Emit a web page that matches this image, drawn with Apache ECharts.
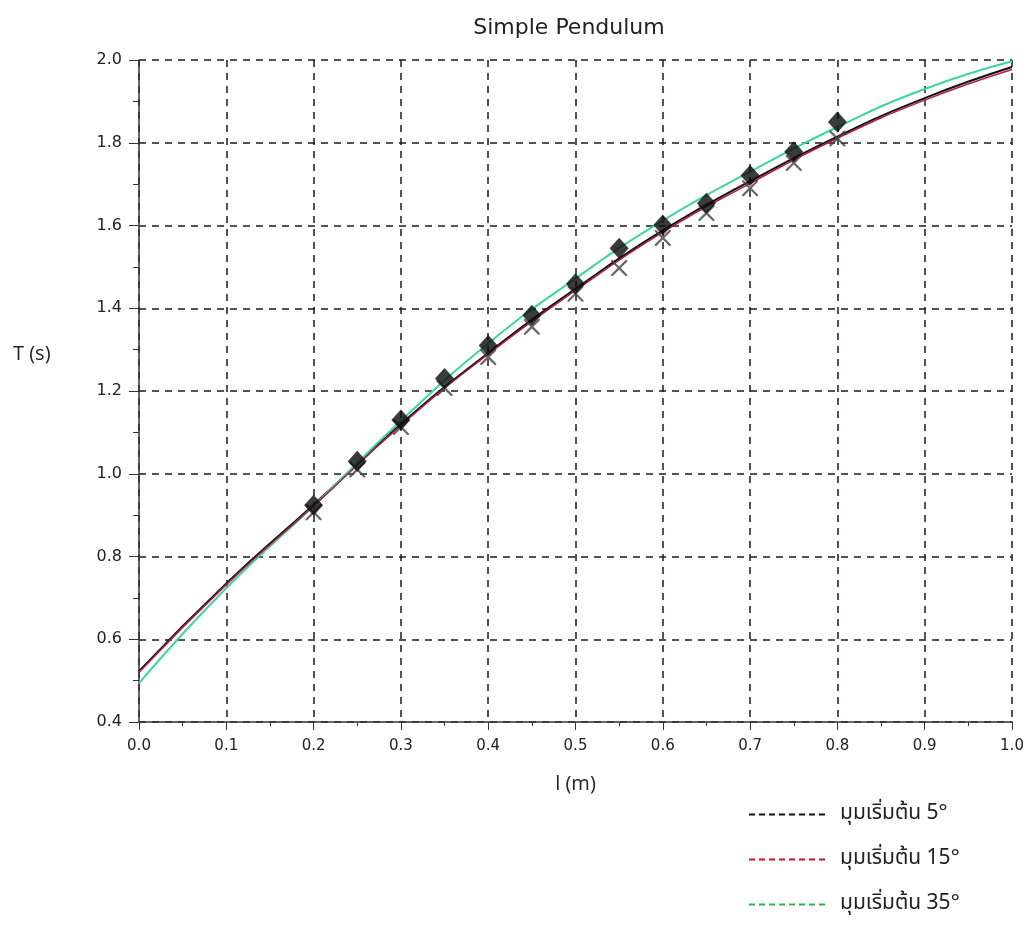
<!DOCTYPE html>
<html>
<head>
<meta charset="utf-8">
<script src="https://cdn.jsdelivr.net/npm/echarts@6/dist/echarts.min.js"></script>
<style>
  html, body { margin: 0; padding: 0; background: #fff; }
  #pendulum { width: 1027px; height: 937px; }
</style>
</head>
<body>
<div id="pendulum"></div>
<script>
// lengths l (m) for the fitted curves
var lengths = [0, 0.1, 0.2, 0.3, 0.4, 0.5, 0.6, 0.7, 0.8, 0.9, 1.0];
var period5 = [0.523, 0.735, 0.925, 1.120, 1.292, 1.447, 1.588, 1.707, 1.815, 1.908, 1.983];
var period15 = [0.520, 0.732, 0.922, 1.117, 1.289, 1.443, 1.584, 1.702, 1.811, 1.903, 1.977];
var period35 = [0.494, 0.724, 0.922, 1.128, 1.315, 1.472, 1.612, 1.730, 1.838, 1.930, 1.997];

// measured points
var measuredL = [0.2, 0.25, 0.3, 0.35, 0.4, 0.45, 0.5, 0.55, 0.6, 0.65, 0.7, 0.75, 0.8];
var diamondT = [0.924, 1.030, 1.130, 1.230, 1.310, 1.383, 1.459, 1.545, 1.601, 1.654, 1.721, 1.778, 1.850];
var crossT = [0.907, 1.010, 1.113, 1.207, 1.282, 1.355, 1.435, 1.497, 1.570, 1.630, 1.690, 1.751, 1.810];

var legendNames = ['มุมเริ่มต้น 5°', 'มุมเริ่มต้น 15°', 'มุมเริ่มต้น 35°'];
var legendColors = ['#111111', '#d0102a', '#2bb84c'];

function pairs(xs, ys) {
    return xs.map(function (x, i) { return [x, ys[i]]; });
}

var myChart = echarts.init(document.getElementById('pendulum'));
var gridDash = { color: '#1a1a2a', width: 1.5, type: [7, 6] };

var option = {
    animation: false,
    backgroundColor: '#ffffff',
    title: {
        text: 'Simple Pendulum',
        left: 564,
        top: 12,
        textAlign: 'center',
        textStyle: { fontFamily: 'DejaVu Sans', fontSize: 22, fontWeight: 'normal', color: '#222' }
    },
    graphic: [{
        type: 'text',
        left: 13,
        top: 344,
        style: { text: 'T (s)', font: '20px "Open Sans"', fill: '#222' }
    }],
    grid: { left: 139, right: 15, top: 60, bottom: 215 },
    legend: {
        orient: 'vertical',
        left: 743,
        top: 799,
        itemGap: 24,
        itemWidth: 80,
        itemHeight: 14,
        itemStyle: { color: 'transparent', borderColor: 'transparent', borderWidth: 0 },
        lineStyle: { type: [6, 4], width: 2 },
        textStyle: { fontFamily: 'Noto Sans Thai, Tahoma, Noto Sans, sans-serif', fontSize: 21, color: '#222', padding: [0, 0, 0, 6] },
        data: legendNames.map(function (n, i) {
            return { name: n, lineStyle: { color: legendColors[i], type: [6, 4], width: 2 } };
        })
    },
    xAxis: {
        type: 'value',
        min: 0,
        max: 1,
        interval: 0.1,
        name: 'l (m)',
        nameLocation: 'middle',
        nameGap: 52,
        nameTextStyle: { fontFamily: 'Open Sans', fontSize: 20, color: '#222' },
        axisLine: { lineStyle: { color: '#333344', width: 1.5 } },
        axisTick: { length: 8, lineStyle: { color: '#333' } },
        minorTick: { show: true, splitNumber: 2, length: 4, lineStyle: { color: '#333' } },
        axisLabel: {
            fontFamily: 'DejaVu Sans', fontSize: 15, color: '#222', margin: 17,
            formatter: function (v) { return v.toFixed(1); }
        },
        splitLine: { show: true, lineStyle: gridDash }
    },
    yAxis: {
        type: 'value',
        min: 0.4,
        max: 2.0,
        interval: 0.2,
        axisLine: { show: true, lineStyle: { color: '#333344', width: 1.5 } },
        axisTick: { show: true, length: 10, lineStyle: { color: '#333' } },
        minorTick: { show: true, splitNumber: 2, length: 6, lineStyle: { color: '#333' } },
        axisLabel: {
            fontFamily: 'DejaVu Sans', fontSize: 16, color: '#222', margin: 17,
            formatter: function (v) { return v.toFixed(1); }
        },
        splitLine: { show: true, lineStyle: gridDash }
    },
    series: [
        {
            name: legendNames[0],
            type: 'line',
            smooth: true,
            symbol: 'none',
            lineStyle: { color: '#111', width: 2 },
            itemStyle: { color: '#111' },
            z: 3,
            data: pairs(lengths, period5)
        },
        {
            name: legendNames[2],
            type: 'line',
            smooth: true,
            symbol: 'none',
            lineStyle: { color: '#3cd6a0', width: 2 },
            itemStyle: { color: '#2bb84c' },
            z: 3,
            data: pairs(lengths, period35)
        },
        {
            name: legendNames[1],
            type: 'line',
            smooth: true,
            symbol: 'none',
            lineStyle: { color: '#b51c3c', width: 1.5 },
            itemStyle: { color: '#d0102a' },
            z: 3,
            data: pairs(lengths, period15)
        },
        {
            name: 'measured-cross',
            type: 'scatter',
            symbol: 'path://M0,0L1,0L5,4L9,0L10,0L10,1L6,5L10,9L10,10L9,10L5,6L1,10L0,10L0,9L4,5L0,1Z',
            symbolSize: 16,
            itemStyle: { color: '#444' },
            z: 4,
            data: pairs(measuredL, crossT)
        },
        {
            name: 'measured-diamond',
            type: 'scatter',
            symbol: 'diamond',
            symbolSize: [19, 21],
            itemStyle: { color: '#0a0a0a' },
            z: 5,
            data: pairs(measuredL, diamondT)
        }
    ]
};
myChart.setOption(option, true);
</script>
</body>
</html>
